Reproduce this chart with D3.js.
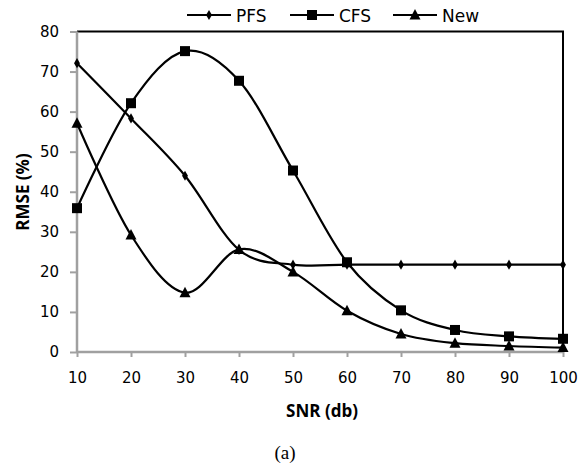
<!DOCTYPE html>
<html>
<head>
<meta charset="utf-8">
<script src="https://cdn.jsdelivr.net/npm/d3@7"></script>
<style>
body { margin: 0; background: #fff; }
text { font-family: "DejaVu Sans", Verdana, sans-serif; }
</style>
</head>
<body>
<div id="chart"></div>
<script>
var snr = [10, 20, 30, 40, 50, 60, 70, 80, 90, 100];
var pfs = [72.1, 58.3, 44.0, 25.5, 21.8, 21.8, 21.8, 21.8, 21.8, 21.8];
var cfs = [35.9, 62.1, 75.1, 67.7, 45.3, 22.4, 10.4, 5.5, 3.9, 3.3];
var newVals = [57.1, 29.2, 14.8, 25.6, 20.0, 10.3, 4.5, 2.2, 1.5, 1.1];
var yTicks = [0, 10, 20, 30, 40, 50, 60, 70, 80];
var seriesNames = ['PFS', 'CFS', 'New'];

var svgWidth = 581, svgHeight = 466;
var margin = {top: 31.5, right: 18, bottom: 114, left: 77};
var width = svgWidth - margin.left - margin.right;
var height = svgHeight - margin.top - margin.bottom;

var svg = d3.select('#chart').append('svg')
    .attr('width', svgWidth).attr('height', svgHeight);
var g = svg.append('g').attr('transform', `translate(${margin.left},${margin.top})`);

var x = d3.scaleLinear().domain([10, 100]).range([0, width]);
var y = d3.scaleLinear().domain([0, 80]).range([height, 0]);

// plot border top/right
g.append('path')
    .attr('d', `M0,0H${width}V${height}`)
    .attr('fill', 'none').attr('stroke', '#000').attr('stroke-width', 2);

var xAxis = g.append('g').attr('transform', `translate(0,${height})`)
    .call(d3.axisBottom(x).tickValues(snr).tickSize(5).tickPadding(15));
var yAxis = g.append('g')
    .call(d3.axisLeft(y).tickValues(yTicks).tickSize(7).tickPadding(11));
[xAxis, yAxis].forEach(function(a) {
    a.select('.domain').attr('stroke', '#a0a0a0').attr('stroke-width', 2.5);
    a.selectAll('.tick line').attr('stroke', '#a0a0a0').attr('stroke-width', 2);
    a.selectAll('.tick text').attr('font-size', 15).attr('fill', '#000')
        .attr('font-family', '"DejaVu Sans", Verdana, sans-serif');
});
xAxis.select('.domain').attr('d', `M0,0H${width}`);
yAxis.select('.domain').attr('d', `M0,${height}V0`);

var line = d3.line()
    .x(function(d, i) { return x(snr[i]); })
    .y(function(d) { return y(d); })
    .curve(d3.curveCardinal.tension(0));

function marker(sel, type) {
    if (type === 'PFS') {
        sel.append('path').attr('d', d3.symbol(d3.symbolDiamond, 30)).attr('fill', '#000');
    } else if (type === 'CFS') {
        sel.append('rect').attr('x', -5).attr('y', -5).attr('width', 10).attr('height', 10).attr('fill', '#000');
    } else {
        sel.append('path').attr('d', 'M0,-6L5.5,4.5L-5.5,4.5Z').attr('fill', '#000');
    }
}

var allSeries = [pfs, cfs, newVals];
allSeries.forEach(function(vals, k) {
    g.append('path').datum(vals)
        .attr('d', line)
        .attr('fill', 'none').attr('stroke', '#000').attr('stroke-width', 2.2);
    g.selectAll('.m' + k).data(vals).enter().append('g')
        .attr('class', 'm' + k)
        .attr('transform', function(d, i) { return `translate(${x(snr[i])},${y(d)})`; })
        .each(function() { marker(d3.select(this), seriesNames[k]); });
});

// legend
var legendX = [187, 290, 393];
seriesNames.forEach(function(name, k) {
    var lg = svg.append('g').attr('transform', `translate(${legendX[k]},15)`);
    lg.append('line').attr('x1', 0).attr('x2', 44).attr('y1', 0).attr('y2', 0)
        .attr('stroke', '#000').attr('stroke-width', 2.2);
    var mk = lg.append('g').attr('transform', 'translate(22,0)');
    marker(mk, name);
    lg.append('text').attr('x', 49).attr('y', 6.5).attr('font-size', 17).text(name);
});

// axis titles
svg.append('text')
    .attr('transform', 'translate(29,192) rotate(-90)')
    .attr('text-anchor', 'middle')
    .attr('font-size', 17).attr('font-weight', 'bold')
    .style('font-family', '"Open Sans", "Liberation Sans", sans-serif')
    .text('RMSE (%)');
svg.append('text')
    .attr('x', 322).attr('y', 417)
    .attr('text-anchor', 'middle')
    .attr('font-size', 17).attr('font-weight', 'bold')
    .style('font-family', '"Open Sans", "Liberation Sans", sans-serif')
    .text('SNR (db)');
svg.append('text')
    .attr('x', 285).attr('y', 459)
    .attr('text-anchor', 'middle')
    .attr('font-size', 19)
    .style('font-family', '"Liberation Serif", serif')
    .text('(a)');
</script>
</body>
</html>
